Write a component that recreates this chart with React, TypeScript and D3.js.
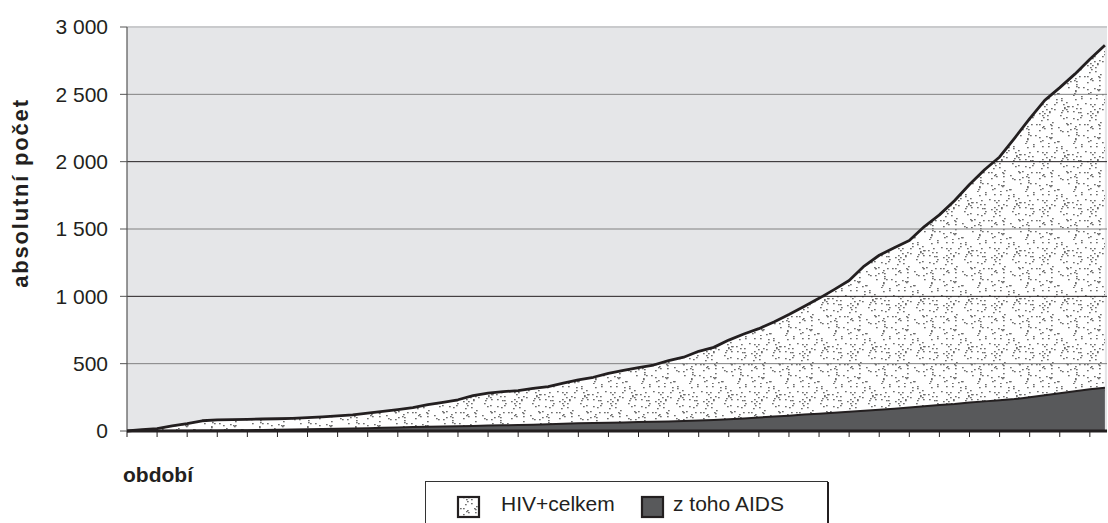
import React from "react";
import * as d3 from "d3";

// half-year periods from 1985 to mid-2017
const periods: number[] = d3.range(0, 66).map((k) => 1985 + k / 2);

const hivTotal: number[] = [
  0, 10, 17, 38, 55, 76, 82, 84, 87, 89,
  91, 94, 99, 105, 112, 120, 133, 145, 158, 173,
  195, 213, 232, 262, 281, 292, 300, 317, 330, 355,
  380, 399, 428, 450, 470, 490, 522, 548, 592, 621,
  675, 720, 760, 810, 865, 925, 985, 1050, 1118, 1225,
  1305, 1360, 1415, 1518, 1605, 1710, 1830, 1940, 2035, 2175,
  2320, 2455, 2550, 2650, 2760, 2865,
];

const aidsTotal: number[] = [
  0, 0, 0, 1, 2, 3, 4, 5, 6, 8,
  9, 11, 13, 15, 17, 19, 21, 24, 26, 29,
  31, 34, 36, 38, 40, 42, 44, 46, 50, 54,
  57, 60, 62, 64, 66, 69, 71, 74, 78, 82,
  87, 93, 100, 107, 114, 122, 128, 136, 143, 150,
  158, 166, 175, 184, 193, 200, 212, 220, 228, 237,
  250, 265, 280, 296, 310, 322,
];

const yTicks: number[] = [0, 500, 1000, 1500, 2000, 2500, 3000];
const yTickLabels: string[] = ["0", "500", "1 000", "1 500", "2 000", "2 500", "3 000"];
const xTickYears: number[] = d3.range(1985, 2018);

const seriesNames: string[] = ["HIV+celkem", "z toho AIDS"];
const yAxisTitle = "absolutní počet";
const xAxisTitle = "období";

const W = 1108;
const H = 523;
const left = 127;
const right = 1107;
const top = 27;
const bottom = 431;

// stipple texture: deterministic, irregular dot layout for the fill pattern
const TILE = 48;
const lcg = d3.randomLcg(0.4217);
const dotPattern: [number, number][] = d3.range(95).map(() => [
  Math.floor(lcg() * TILE),
  Math.floor(lcg() * TILE),
]);

export default function App() {
  const x = d3.scaleLinear().domain([1985, 2017.57]).range([left, right]);
  const y = d3.scaleLinear().domain([0, 3000]).range([bottom, top]);

  const area = d3
    .area<number>()
    .x((_, i) => x(periods[i]))
    .y0(y(0))
    .y1((d) => y(d));
  const line = d3
    .line<number>()
    .x((_, i) => x(periods[i]))
    .y((d) => y(d));

  const font = "Arial, 'Liberation Sans', Helvetica, sans-serif";
  const grid = yTicks.slice(1, -1);

  return (
    <svg
      width={W}
      height={H}
      style={{ position: "absolute", left: 0, top: 0, display: "block" }}
      fontFamily={font}
    >
      <defs>
        <pattern id="stipple" width={TILE} height={TILE} patternUnits="userSpaceOnUse">
          <rect width={TILE} height={TILE} fill="#ffffff" />
          {dotPattern.map(([px, py], i) => (
            <rect key={i} x={px} y={py} width={1.7} height={1.3} fill="#6e6e6e" />
          ))}
        </pattern>
      </defs>
      <rect width={W} height={H} fill="#ffffff" />
      {/* plot background */}
      <rect x={left} y={top} width={right - left} height={bottom - top} fill="#e5e6e8" />
      <line x1={left} x2={right} y1={top} y2={top} stroke="#c9cacc" strokeWidth={2} />
      {/* HIV area */}
      <path d={area(hivTotal) || ""} fill="url(#stipple)" />
      {/* gridlines */}
      {grid.map((t) => (
        <line
          key={"g" + t}
          x1={left}
          x2={right}
          y1={y(t)}
          y2={y(t)}
          stroke={t % 1000 === 0 ? "#231f20" : "#808080"}
          strokeWidth={1}
        />
      ))}
      <path d={area(aidsTotal) || ""} fill="#58595b" />
      <path d={line(aidsTotal) || ""} fill="none" stroke="#231f20" strokeWidth={2} />
      <path d={line(hivTotal) || ""} fill="none" stroke="#231f20" strokeWidth={2.8} strokeLinejoin="round" />
      {/* y axis */}
      <line x1={left} x2={left} y1={top} y2={bottom} stroke="#555" strokeWidth={1.2} />
      {yTicks.map((t, i) => (
        <g key={t}>
          <line x1={left - 7} x2={left} y1={y(t)} y2={y(t)} stroke="#555" strokeWidth={1} />
          <text
            x={108}
            y={y(t)}
            dy="0.35em"
            textAnchor="end"
            fontSize={21}
            fill="#231f20"
          >
            {yTickLabels[i]}
          </text>
        </g>
      ))}
      {/* x axis */}
      <line x1={left} x2={right} y1={bottom} y2={bottom} stroke="#231f20" strokeWidth={3} />
      {xTickYears.map((yr) => (
        <line key={yr} x1={x(yr)} x2={x(yr)} y1={bottom} y2={bottom + 6} stroke="#231f20" strokeWidth={1} />
      ))}
      {/* titles */}
      <text
        transform={`translate(28, 193) rotate(-90)`}
        textAnchor="middle"
        fontSize={22}
        fontWeight="bold"
        letterSpacing={1.8}
        fill="#231f20"
      >
        {yAxisTitle}
      </text>
      <text x={123} y={482} fontSize={21} fontWeight="bold" fill="#231f20">
        {xAxisTitle}
      </text>
      {/* legend */}
      <rect x={425.5} y={481.5} width={402} height={50} fill="#ffffff" stroke="#333" strokeWidth={1} />
      <line x1={828} x2={828} y1={482} y2={H} stroke="#231f20" strokeWidth={2} />
      <rect x={458} y={497} width={21} height={20} fill="url(#stipple)" stroke="#231f20" strokeWidth={2.2} />
      <text x={501} y={511} fontSize={21} fill="#231f20">
        {seriesNames[0]}
      </text>
      <rect x={642} y={497} width={21} height={20} fill="#58595b" stroke="#231f20" strokeWidth={2.2} />
      <text x={673} y={511} fontSize={21} fill="#231f20">
        {seriesNames[1]}
      </text>
    </svg>
  );
}
